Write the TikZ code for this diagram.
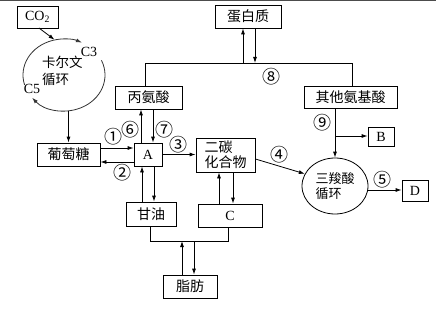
\documentclass[tikz,border=0pt]{standalone}
\usepackage{fontspec}
\setmainfont{Liberation Serif}
\newfontfamily\cjk{Noto Sans CJK SC}
\usetikzlibrary{arrows.meta,shapes.geometric,calc}
\begin{document}
\begin{tikzpicture}[x=1pt,y=-1pt,
  box/.style={draw, line width=0.8pt, inner sep=0pt, font=\cjk\fontsize{14}{16}\selectfont},
  lbox/.style={box, font=\rmfamily\fontsize{14}{16}\selectfont},
  lbl/.style={inner sep=0pt, font=\cjk\fontsize{18}{18}\selectfont},
  txt/.style={inner sep=0pt, font=\cjk\fontsize{13.5}{14}\selectfont},
  llbl/.style={inner sep=0pt, font=\rmfamily\fontsize{14}{14}\selectfont},
  ln/.style={line width=0.8pt},
  arr/.style={ln, -{Latex[length=6pt,width=4pt]}},
]
\useasboundingbox (0,0) rectangle (436,310);
\draw[line width=1pt, black!70] (0,0.5) -- (436,0.5);

% boxes
\node[lbox, minimum width=41pt, minimum height=22pt] (co2) at (37.5,17) {CO\textsubscript{2}};
\node[box, minimum width=66pt, minimum height=23pt] (prot) at (248,16.5) {蛋白质};
\node[box, minimum width=67pt, minimum height=23pt] (ala) at (148.5,97.5) {丙氨酸};
\node[box, minimum width=93pt, minimum height=22pt] (oth) at (350.5,97) {其他氨基酸};
\node[lbox, minimum width=26pt, minimum height=19pt] (B) at (381,136.5) {B};
\node[box, minimum width=63pt, minimum height=23pt] (glu) at (68.5,154.5) {葡萄糖};
\node[lbox, minimum width=28pt, minimum height=23pt] (A) at (148,154.5) {A};
\node[box, minimum width=59pt, minimum height=34pt, align=left, font=\cjk\fontsize{14}{15}\selectfont] (ec) at (225.5,155) {二碳\\化合物};
\node[draw, ellipse, line width=0.8pt, minimum width=66pt, minimum height=56pt, inner sep=0pt, align=left, font=\cjk\fontsize{13}{15}\selectfont] (tca) at (335,186) {三羧酸\\循环\phantom{一}};
\node[lbox, minimum width=26pt, minimum height=21pt] (D) at (415,190.5) {D};
\node[box, minimum width=50pt, minimum height=24pt] (gly) at (151,214) {甘油};
\node[lbox, minimum width=64pt, minimum height=23pt] (C) at (230,215.5) {C};
\node[box, minimum width=54pt, minimum height=23pt] (fat) at (190,286.5) {脂肪};

% Calvin cycle
\coordinate (cc) at (64,75);
\node[ellipse, minimum width=82pt, minimum height=72pt, inner sep=0pt] (calvin) at (cc) {};
\draw[arr, black!80] ([shift={(196:41pt and 36pt)}]cc) arc[start angle=196, end angle=64, x radius=41pt, y radius=36pt];
\draw[arr, black!80] ([shift={(24:41pt and 36pt)}]cc) arc[start angle=24, end angle=-141, x radius=41pt, y radius=36pt];
\node[txt, anchor=west] (kaer) at (42,62) {卡尔文};
\node[txt, anchor=west] (xunhuan) at (42,79) {循环};
\node[llbl] (c3) at (89,52) {C3};
\node[llbl] (c5) at (32,89) {C5};
\coordinate (co2s) at (39,28);
\draw[arr] (co2s) -- (calvin.105);
\draw[arr] (calvin.south -| glu.north) -- (glu.north);

% glucose <-> A
\draw[arr] ([yshift=6.5pt]glu.east) -- ([yshift=6.5pt]A.west);
\draw[arr] ([yshift=-7.5pt]A.west) -- ([yshift=-7.5pt]glu.east);
% A <-> alanine
\draw[arr] ([xshift=-7pt]A.north) -- ([xshift=-7pt]A.north |- ala.south);
\draw[arr] ([xshift=5pt]A.north |- ala.south) -- ([xshift=5pt]A.north);
% A -> ec
\draw[arr] (A.east) -- (A.east -| ec.west);
% A <-> glycerol
\draw[arr] ([xshift=-6pt]A.south |- gly.north) -- ([xshift=-6pt]A.south);
\draw[arr] ([xshift=6pt]A.south) -- ([xshift=6pt]A.south |- gly.north);

% amino acids - protein
\coordinate (j1) at (145,63);
\coordinate (j2) at (352,63);
\draw[ln] (j1 |- ala.north) -- (j1) -- (j2) -- (j2 |- oth.north);
\coordinate (p1) at (243,63);
\coordinate (p2) at (255,63);
\draw[arr] (p1) -- (p1 |- prot.south);
\draw[arr] (p2 |- prot.south) -- (p2);

% other amino acids
\coordinate (o1) at (335,136);
\draw[arr] (o1 |- oth.south) -- (tca.north);
\draw[arr] (o1) -- (o1 -| B.west);

% ec -> tca, tca -> D
\draw[arr] ([yshift=-4pt]ec.east) -- (tca.158);
\coordinate (t1) at (368,190);
\draw[arr] (t1) -- (t1 -| D.west);

% ec <-> C
\draw[arr] ([xshift=-6.5pt]ec.south |- C.north) -- ([xshift=-6.5pt]ec.south);
\draw[arr] ([xshift=7.5pt]ec.south) -- ([xshift=7.5pt]ec.south |- C.north);

% glycerol, C, fat
\coordinate (g1) at (150,241);
\coordinate (g2) at (228,241);
\draw[ln] (g1 |- gly.south) -- (g1) -- (g2) -- (g2 |- C.south);
\coordinate (f1) at (182,241);
\coordinate (f2) at (194,241);
\draw[arr] (f1 |- fat.north) -- (f1);
\draw[arr] (f2) -- (f2 |- fat.north);

% numbered labels
\node[lbl] (n1) at (113,137) {①};
\node[lbl] (n2) at (122,173) {②};
\node[lbl] (n3) at (178,145) {③};
\node[lbl] (n4) at (279,155) {④};
\node[lbl] (n5) at (382,180) {⑤};
\node[lbl] (n6) at (130,130) {⑥};
\node[lbl] (n7) at (164,130) {⑦};
\node[lbl] (n8) at (271,77) {⑧};
\node[lbl] (n9) at (322,123) {⑨};
\end{tikzpicture}
\end{document}
